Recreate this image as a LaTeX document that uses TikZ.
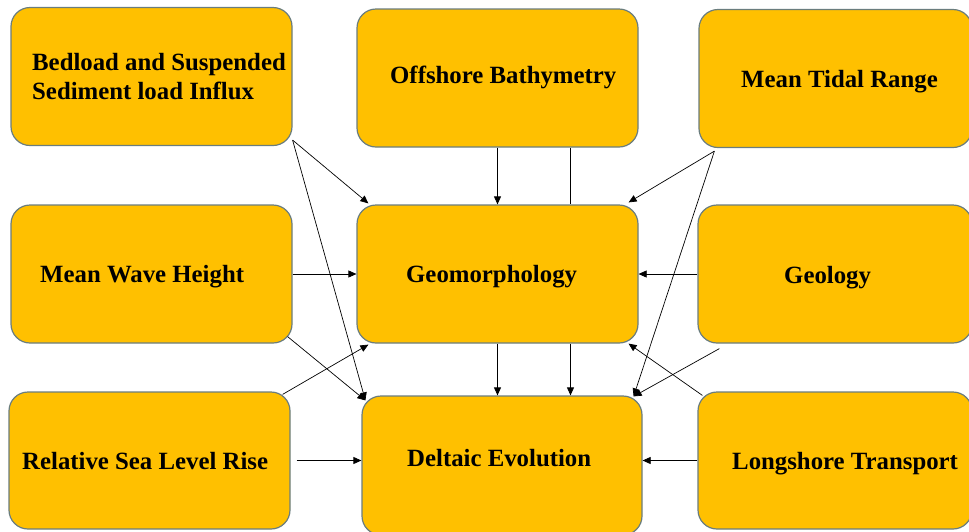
\documentclass[tikz,border=0pt]{standalone}
\usepackage{fontspec}
\setmainfont{Liberation Serif}
\usetikzlibrary{arrows.meta,calc}
\definecolor{boxfill}{HTML}{FFC000}
\definecolor{boxline}{HTML}{6A7D7E}
\begin{document}
\begin{tikzpicture}[x=1pt,y=-1pt,
  box/.style={draw=boxline,line width=1.2pt,fill=boxfill,rounded corners=19pt,
    minimum width=#1,minimum height=138pt,inner sep=0pt},
  lbl/.style={anchor=base west,inner sep=0pt,font=\fontsize{24.8}{29}\selectfont\bfseries,align=left},
  conn/.style={line width=0.7pt,draw=black},
  arr/.style={conn,-{Triangle[length=8pt,width=7pt]}}]
\useasboundingbox (0,0) rectangle (969,531);
% boxes
\node[box=281pt] (bed)  at (151.5,76.5) {};
\node[box=281pt] (off)  at (497.5,78) {};
\node[box=273pt] (tid)  at (835.5,78.5) {};
\node[box=281pt] (wave) at (151.5,274) {};
\node[box=281pt] (geo)  at (497.5,274) {};
\node[box=274pt] (gel)  at (835,274) {};
\node[box=281pt,minimum height=137pt] (rslr) at (149.5,460.5) {};
\node[box=280pt,minimum height=139pt] (del)  at (502,465.5) {};
\node[box=274pt,minimum height=137pt] (long) at (835,460.5) {};
% labels
\node[lbl] (tbed)  at (32,99) {Bedload and Suspended\\Sediment load Influx};
\node[lbl] (toff)  at (390,83) {Offshore Bathymetry};
\node[lbl] (ttid)  at (741,87) {Mean Tidal Range};
\node[lbl] (twave) at (40,282) {Mean Wave Height};
\node[lbl] (tgeo)  at (406,282) {Geomorphology};
\node[lbl] (tgel)  at (784,283) {Geology};
\node[lbl] (trslr) at (22,469) {Relative Sea Level Rise};
\node[lbl] (tdel)  at (407,466) {Deltaic Evolution};
\node[lbl] (tlong) at (732,469) {Longshore Transport};
% connectors
\coordinate (bedc) at ($(bed.south east)+(0,-6)$);
\coordinate (tidc) at ($(tid.south west)+(16,3)$);
\coordinate (wavec) at ($(wave.south east)+(-5,-7)$);
\coordinate (rslrc) at ($(rslr.north east)+(-8,3)$);
\coordinate (gelc) at ($(gel.south west)+(22,5)$);
\coordinate (longc) at ($(long.north west)+(5,4)$);
\coordinate (geoTL) at ($(geo.north west)+(12,-1)$);
\coordinate (geoTR) at ($(geo.north east)+(-10,-2)$);
\coordinate (geoBL) at ($(geo.south west)+(12,1)$);
\coordinate (geoBR) at ($(geo.south east)+(-10,0)$);
\coordinate (delTL) at ($(del.north west)+(4,5)$);
\coordinate (delTR) at ($(del.north east)+(-9,1)$);
\coordinate (offR) at ($(off.south)+(73,0)$);
\coordinate (geoR) at ($(geo.south)+(73,0)$);
\draw[arr] (bedc) -- (geoTL);
\draw[arr] (bedc) -- (delTL);
\draw[arr] (off.south) -- (geo.north);
\draw[conn] (offR) -- (offR |- geo.north);
\draw[arr] (tidc) -- (geoTR);
\draw[arr] (tidc) -- (delTR);
\draw[arr] (wave.east) -- (geo.west);
\draw[arr] (gel.west) -- (geo.east);
\draw[arr] (wavec) -- (delTL);
\draw[arr] (rslrc) -- (geoBL);
\draw[arr] (geo.south) -- (geo.south |- del.north);
\draw[arr] (geoR) -- (geoR |- del.north);
\draw[arr] (gelc) -- (delTR);
\draw[arr] (longc) -- (geoBR);
\draw[arr] ($(rslr.east)+(6,0)$) -- (rslr.east -| del.west);
\draw[arr] (long.west) -- (long.west -| del.east);
\end{tikzpicture}
\end{document}
